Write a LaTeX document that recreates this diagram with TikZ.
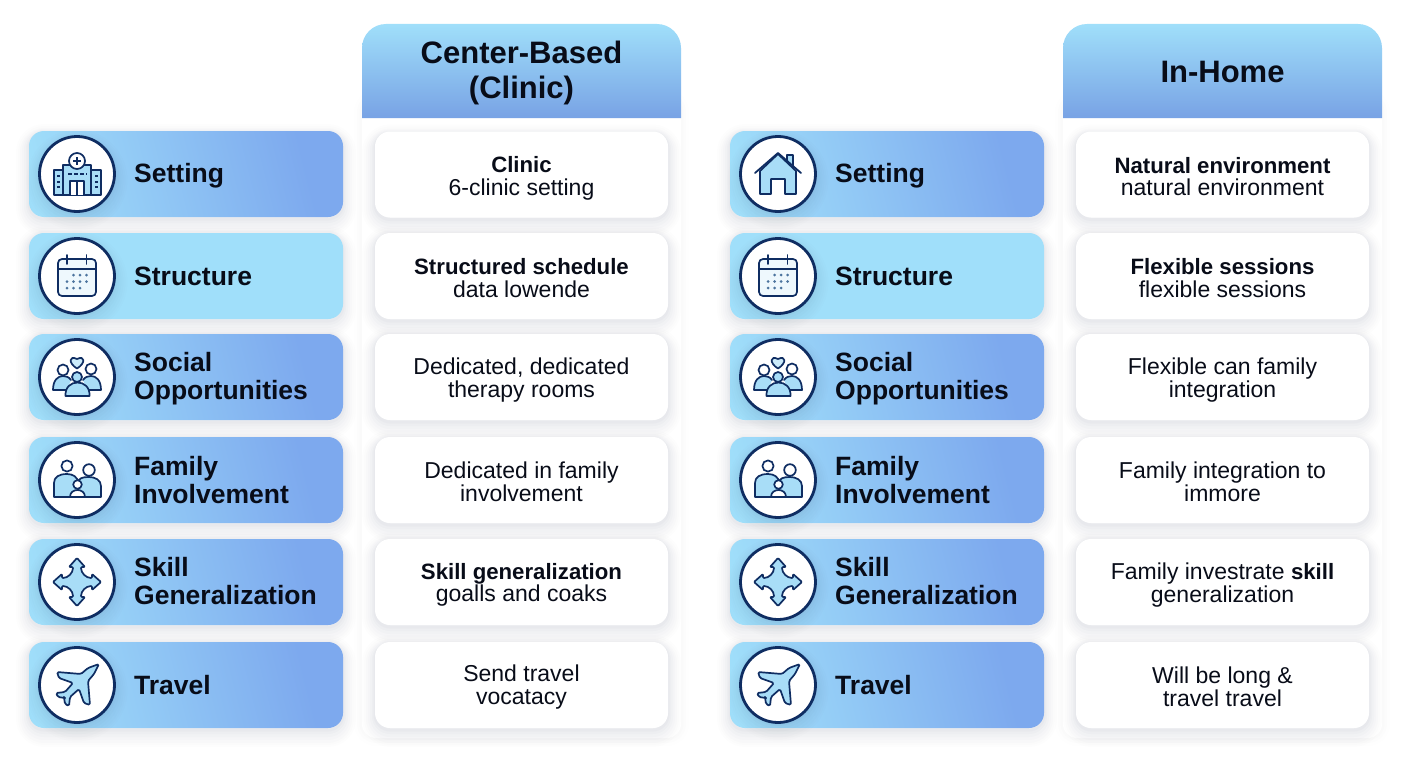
\documentclass[tikz,border=0pt]{standalone}
\usepackage{fontspec}
\setmainfont{Liberation Sans}

\definecolor{lite}{HTML}{A0DFFA}
\definecolor{edge}{HTML}{93D2F5}
\definecolor{deep}{HTML}{7DA9EE}
\definecolor{navy}{HTML}{0F2D62}
\definecolor{iconfill}{HTML}{A8DDF7}
\definecolor{ink}{HTML}{080C18}
\definecolor{shadowcol}{HTML}{33415C}

\pgfdeclarehorizontalshading{rowgrad}{100bp}{color(0bp)=(edge); color(8bp)=(edge); color(22bp)=(lite); color(72bp)=(deep); color(100bp)=(deep)}

\tikzset{
  softshadow/.style={
    preaction={draw=shadowcol,draw opacity=.006,line width=26pt,transform canvas={yshift=-6pt}},
    preaction={draw=shadowcol,draw opacity=.008,line width=22pt,transform canvas={yshift=-6pt}},
    preaction={draw=shadowcol,draw opacity=.010,line width=18pt,transform canvas={yshift=-6pt}},
    preaction={draw=shadowcol,draw opacity=.012,line width=14pt,transform canvas={yshift=-5pt}},
    preaction={draw=shadowcol,draw opacity=.015,line width=10pt,transform canvas={yshift=-4pt}},
    preaction={draw=shadowcol,draw opacity=.018,line width=6pt,transform canvas={yshift=-3pt}},
    preaction={draw=shadowcol,draw opacity=.022,line width=3pt,transform canvas={yshift=-2pt}}},
  rowbox/.style={rectangle,rounded corners=15pt,minimum width=314pt,minimum height=86pt,inner sep=0pt,softshadow},
  gradbox/.style={shading=rowgrad,shading angle=14},
  flatbox/.style={fill=lite},
  rowlabel/.style={anchor=west,align=left,inner sep=0pt,text=ink,font=\fontsize{26.5}{28.5}\selectfont\bfseries},
  iconring/.style={circle,draw=navy,line width=2.8pt,fill=white,minimum size=75pt,inner sep=0pt,softshadow},
  iconline/.style={draw=navy,line width=1.7pt,fill=iconfill,line join=round,line cap=round},
  panelbox/.style={rectangle,rounded corners=14pt,fill=white,minimum width=319pt,minimum height=640pt,inner sep=0pt,
    preaction={draw=shadowcol,draw opacity=.005,line width=16pt},
    preaction={draw=shadowcol,draw opacity=.006,line width=10pt},
    preaction={draw=shadowcol,draw opacity=.008,line width=5pt}},
  cardbox/.style={rectangle,rounded corners=15pt,fill=white,minimum width=293pt,minimum height=86pt,inner sep=0pt,softshadow},
  cardtext/.style={align=center,inner sep=0pt,text=ink,font=\fontsize{23}{22.5}\selectfont},
  headlabel/.style={align=center,inner sep=0pt,text=ink,font=\fontsize{31}{35}\selectfont\bfseries}
}

\newcommand{\boldline}[1]{{\fontsize{22.2}{22.5}\selectfont\bfseries #1}}

% icons, drawn round the middle of the ring
\newcommand{\iconhospital}{
  \path[iconline] (-23,21) -- (-23,-4) -- (-12,-4) -- (-12,21) -- cycle;
  \path[iconline] (24,21) -- (24,-4) -- (13,-4) -- (13,21) -- cycle;
  \path[iconline] (-14,21) -- (-14,-9) -- (14,-9) -- (14,21) -- cycle;
  \path[iconline,fill=white] (0,-13) circle (8);
  \draw[navy,line width=1.6pt] (-4,-13) -- (4,-13) (0,-17) -- (0,-9);
  \draw[navy,line width=1.4pt,dash pattern=on 4pt off 2pt] (-9,0) -- (10,0);
  \path[iconline,fill=white] (-7,21) -- (-7,7) -- (7,7) -- (7,21);
  \draw[navy,line width=1.4pt] (0,7) -- (0,21);
  \foreach \sx in {-19,19}
    \foreach \sy in {2,8,13}
      \fill[navy] (\sx-1.5,\sy-1) rectangle +(3,2);
}
\newcommand{\iconhouse}{
  \path[iconline] (9,-12) -- (9,-19) -- (15,-19) -- (15,-6);
  \path[iconline] (-18,20) -- (-18,-3) -- (0,-20) -- (18,-3) -- (18,20) -- (7,20) -- (7,5) -- (-7,5) -- (-7,20) -- cycle;
  \draw[navy,line width=1.8pt,line cap=round,line join=round] (-23,-1) -- (0,-21) -- (23,-1);
}
\newcommand{\iconcalendar}{
  \path[iconline,fill=white!80!iconfill,rounded corners=4pt] (-19,-17) rectangle (19,20);
  \draw[navy,line width=1.6pt] (-19,-7) -- (19,-7);
  \draw[navy,line width=1.6pt,line cap=round] (-10,-21) -- (-10,-12) (9.5,-21) -- (9.5,-12);
  \foreach \dx in {-3.5,3,9.5} \fill[navy!60!iconfill] (\dx,-1) circle (1.5);
  \foreach \dx in {-10,-3.5,3,9.5} \fill[navy!60!iconfill] (\dx,5.5) circle (1.5);
  \foreach \dx in {-10,-3.5,3} \fill[navy!60!iconfill] (\dx,12) circle (1.5);
}
\newcommand{\iconsocial}{
  \path[iconline,fill=white!40!iconfill] (0,-8.5) .. controls (-9,-14) and (-8,-22) .. (0,-18) .. controls (8,-22) and (9,-14) .. (0,-8.5);
  \path[iconline,fill=white] (-14,-7) circle (5.5);
  \path[iconline,fill=white] (14,-8) circle (5.5);
  \path[iconline] (-10,13) -- (-24,13) .. controls (-24,3) and (-19,-1) .. (-14,-1) .. controls (-11,-1) and (-8,0) .. (-6,3);
  \path[iconline] (10,13) -- (24,13) .. controls (24,3) and (19,-1) .. (14,-1) .. controls (11,-1) and (8,0) .. (6,3);
  \path[iconline] (0,0) circle (5);
  \path[iconline] (-11.5,19) -- (12.5,19) .. controls (13,10) and (7,5.5) .. (0.5,5.5) .. controls (-6,5.5) and (-12,10) .. (-11.5,19) -- cycle;
}
\newcommand{\iconfamily}{
  \path[iconline,fill=white] (-10,-14) circle (5.6);
  \path[iconline,fill=white] (12,-10) circle (5.8);
  \path[iconline] (-23,17) -- (-23,3) .. controls (-23,-3) and (-18,-6) .. (-10,-6) .. controls (-4,-6) and (1,-3) .. (1,3) -- (1,17) -- cycle;
  \path[iconline] (1,17) -- (1,3) .. controls (1,-2) and (6,-3) .. (12,-3) .. controls (18,-3) and (24,0) .. (24,6) -- (24,17) -- cycle;
  \path[iconline,fill=white] (0.5,4.5) circle (4.3);
  \path[iconline,fill=white] (-7,17) .. controls (-7,12) and (-3,10) .. (0.5,10) .. controls (4,10) and (8,12) .. (8,17) -- cycle;
}
\newcommand{\iconarrows}{
  \path[iconline,rounded corners=1pt] (0,-24) -- (8,-15) -- (4,-15) .. controls (4,-9) and (9,-4) .. (15,-4)
    -- (15,-8) -- (24,0) -- (15,8) -- (15,4) .. controls (9,4) and (4,9) .. (4,15)
    -- (8,15) -- (0,24) -- (-8,15) -- (-4,15) .. controls (-4,9) and (-9,4) .. (-15,4)
    -- (-15,8) -- (-24,0) -- (-15,-8) -- (-15,-4) .. controls (-9,-4) and (-4,-9) .. (-4,-15)
    -- (-8,-15) -- cycle;
}
\newcommand{\iconplane}{
  \path[iconline,rounded corners=1.5pt] (22,-21) -- (11,-17) -- (4,-11) -- (-20,-13) -- (-18,-7) -- (-4,-2)
    -- (-12,7) -- (-21,8) -- (-19,12) -- (-12,13) -- (-13,12) -- (-12,19) -- (-8,21)
    -- (-7,12) -- (2,4) -- (7,18) -- (13,20) -- (11,-4) -- (17,-11) -- cycle;
}

% one column of row labels; #1 shift, #2 name prefix, #3 first icon
\newcommand{\labelcolumn}[3]{
  \foreach \ypos/\ylab/\rowid/\rowfill/\rowicon/\txt in {
    174/176/set/gradbox/#3/{Setting},
    276/276/str/flatbox/\iconcalendar/{Structure},
    377/378.5/soc/gradbox/\iconsocial/{Social\\Opportunities},
    480/480/fam/gradbox/\iconfamily/{Family\\Involvement},
    582/581/ski/gradbox/\iconarrows/{Skill\\Generalization},
    685/685/tra/gradbox/\iconplane/{Travel}}{
    \node[rowbox,\rowfill] (#2\rowid) at (#1+186,\ypos) {};
    \node[iconring] (#2\rowid-ring) at (#1+77,\ypos) {};
    \begin{scope}[shift={(#1+77,\ypos)}]
      \rowicon
    \end{scope}
    \node[rowlabel] (#2\rowid-label) at (#1+134,\ylab) {\txt};
  }
}

% white card with its text; #1 name, #2 x, #3 y, #4 text y, #5 text
\newcommand{\card}[5]{
  \node[cardbox] (#1) at (#2,#3) {};
  \node[cardtext] (#1-text) at (#2,#4) {#5};
}

% header with round top corners; #1 left edge
\newcommand{\headtab}[1]{
  \shade[top color=lite,bottom color=deep!96!black,rounded corners=24pt] (#1,118) -- (#1,24) -- (#1+319,24) [sharp corners] -- (#1+319,118) -- cycle;
}

\begin{document}
\begin{tikzpicture}[x=1pt,y=-1pt]
  \useasboundingbox (0,0) rectangle (1408,768);
  \fill[white] (0,0) rectangle (1408,768);

  % left pair
  \labelcolumn{0}{cl}{\iconhospital}
  \node[panelbox] (clpanel) at (521.5,418) {};
  \headtab{362}
  \node[headlabel] (clhead) at (521.5,73) {Center-Based\\(Clinic)};
  \card{clset}{521.5}{174.5}{178.5}{\boldline{Clinic}\\6-clinic setting}
  \card{clstr}{521.5}{276}{278}{\boldline{Structured schedule}\\data lowende}
  \card{clsoc}{521.5}{377}{380}{Dedicated, dedicated\\therapy rooms}
  \card{clfam}{521.5}{480}{482}{Dedicated in family\\involvement}
  \card{clski}{521.5}{582}{585}{\boldline{Skill generalization}\\goalls and coaks}
  \card{cltra}{521.5}{685}{687}{Send travel\\vocatacy}

  % right pair
  \labelcolumn{701}{ho}{\iconhouse}
  \node[panelbox] (hopanel) at (1222.5,418) {};
  \headtab{1063}
  \node[headlabel] (hohead) at (1222.5,72) {In-Home};
  \card{hoset}{1222.5}{174.5}{176.5}{\boldline{Natural environment}\\natural environment}
  \card{hostr}{1222.5}{276}{278}{\boldline{Flexible sessions}\\flexible sessions}
  \card{hosoc}{1222.5}{377}{380}{Flexible can family\\integration}
  \card{hofam}{1222.5}{480}{482}{Family integration to\\immore}
  \card{hoski}{1222.5}{582}{585}{Family investrate \boldline{skill}\\generalization}
  \card{hotra}{1222.5}{685}{687}{Will be long \&\\travel travel}
\end{tikzpicture}
\end{document}
